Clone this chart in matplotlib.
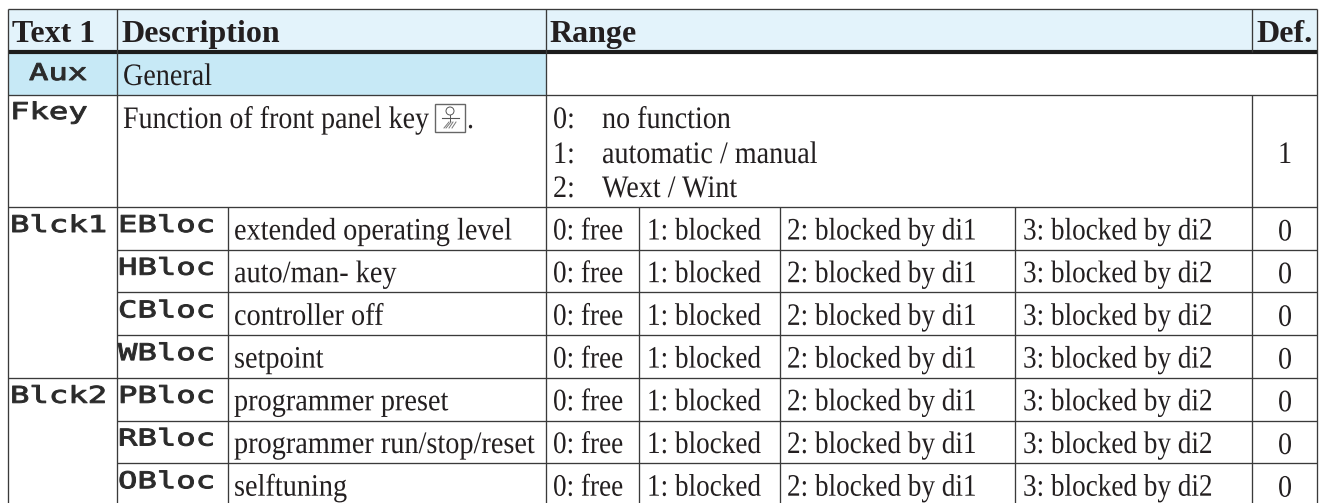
import matplotlib
matplotlib.use("Agg")
import matplotlib.pyplot as plt
from matplotlib.patches import Rectangle, Circle
from matplotlib.patheffects import AbstractPathEffect
from matplotlib.transforms import Affine2D

headers = ["Text 1", "Description", "Range", "Def."]
aux_code = "Aux"
aux_label = "General"
fkey_code = "Fkey"
fkey_label = "Function of front panel key"
fkey_nums = ["0:", "1:", "2:"]
fkey_opts = ["no function", "automatic / manual", "Wext / Wint"]
fkey_def = "1"
groups = ["Blck1", "Blck2"]
codes = ["EBloc", "HBloc", "CBloc", "WBloc", "PBloc", "RBloc", "OBloc"]
labels = ["extended operating level", "auto/man- key", "controller off", "setpoint",
          "programmer preset", "programmer run/stop/reset", "selftuning"]
choices = ["0: free", "1: blocked", "2: blocked by di1", "3: blocked by di2"]
defaults = ["0", "0", "0", "0", "0", "0", "0"]

INK = "#231f20"
LINE = "#3a3a3a"
HEAD_BG = "#e3f3fb"
AUX_BG = "#c7e9f6"

# column and row edges, in pixels
X0, X1, X2, X3, X4, X5, X6, X7, X8 = 8, 117, 228, 546, 639, 780, 1015, 1252, 1317
Y_TOP, Y_HEAD, Y_AUX, Y_FKEY = 9, 52, 95, 207
ROW_H = 42.7
Y_END = 510


class Stretch(AbstractPathEffect):
    # squeeze or widen glyphs sideways, the text stays real text
    def __init__(self, sx, lw=0.0):
        super().__init__()
        self.sx = sx
        self.lw = lw

    def draw_path(self, renderer, gc, tpath, affine, rgbFace=None):
        if self.lw:
            gc.set_linewidth(self.lw)
            gc.set_foreground(rgbFace)
        renderer.draw_path(gc, tpath, Affine2D().scale(self.sx, 1) + affine, rgbFace)


fig = plt.figure(figsize=(13.28, 5.03), dpi=100)
ax = fig.add_axes([0, 0, 1, 1])
ax.set_xlim(0, 1328)
ax.set_ylim(503, 0)
ax.axis("off")


def serif(x, y, s, sx=0.90):
    ax.text(x, y, s, family="Liberation Serif", fontsize=22.5, color=INK, va="baseline",
            ha="left", path_effects=[Stretch(sx)])


def head(x, y, s):
    ax.text(x, y, s, family="Liberation Serif", fontsize=23, color=INK, va="baseline",
            ha="left", fontweight="bold")


def lcd(x, y, s):
    ax.text(x, y, s, family="DejaVu Sans Mono", fontsize=16.6, color="#2a2a2a", va="baseline",
            ha="left", path_effects=[Stretch(1.4, lw=0.7)])


def hline(y, x0=X0, x1=X8, lw=0.95):
    ax.plot([x0, x1], [y, y], color=LINE, lw=lw, solid_capstyle="butt")


def vline(x, y0, y1, lw=0.95):
    ax.plot([x, x], [y0, y1], color=LINE, lw=lw, solid_capstyle="butt")


ax.add_patch(Rectangle((X0, Y_TOP), X8 - X0, Y_HEAD - Y_TOP, fc=HEAD_BG, ec="none"))
ax.add_patch(Rectangle((X0, Y_HEAD), X3 - X0, Y_AUX - Y_HEAD, fc=AUX_BG, ec="none"))

# header
for x, s in zip([12, 121, 549, 1256], headers):
    head(x, 42, s)

# aux and fkey rows
lcd(29, 80, aux_code)
serif(X1 + 6, 85, aux_label)
lcd(10, 119, fkey_code)
serif(X1 + 6, 128, fkey_label, sx=0.895)

# front panel key symbol
ax.add_patch(Rectangle((435, 103.5), 29.5, 28.5, fc="white", ec="#666666", lw=1.0))
ax.add_patch(Circle((450, 111), 4, fc="none", ec="#555555", lw=0.7))
ax.plot([442, 459], [117.5, 117.5], color="#555555", lw=0.8)
ax.plot([450, 450], [115, 121], color="#555555", lw=0.7)
for x_a, x_b in [(444, 449), (446, 451), (449, 453), (452, 456)]:
    ax.plot([x_a, x_b], [128, 122], color="#777777", lw=0.7)
serif(467, 128, ".")

for y, n, opt in zip([128, 163, 197], fkey_nums, fkey_opts):
    serif(X3 + 7, y, n)
    serif(X3 + 56, y, opt)
serif(1278, 163, fkey_def)

# blocked rows
lcd(10, Y_FKEY + 25, groups[0])
lcd(10, Y_FKEY + 4 * ROW_H + 25, groups[1])
choice_x = [X3 + 7, X4 + 8, X5 + 7, X6 + 8]
for i, (code, label, d) in enumerate(zip(codes, labels, defaults)):
    top = Y_FKEY + i * ROW_H
    lcd(X1 + 1, top + 25, code)
    serif(X2 + 6, top + 32.5, label, sx=0.905)
    for x, c in zip(choice_x, choices):
        serif(x, top + 32.5, c, sx=0.87)
    serif(1278, top + 33.5, d)

# grid
hline(Y_TOP)
ax.plot([X0, X8], [Y_HEAD, Y_HEAD], color="#1c1c1c", lw=3.0, solid_capstyle="butt")
hline(Y_AUX)
hline(Y_FKEY)
for i in range(1, 7):
    y = Y_FKEY + i * ROW_H
    if i == 4:
        hline(y)
    else:
        hline(y, x0=X1)
for x in [X0, X8]:
    vline(x, Y_TOP, Y_END)
vline(X1, Y_TOP, Y_END)
vline(X3, Y_TOP, Y_END)
vline(X7, Y_TOP, Y_HEAD)
vline(X7, Y_AUX, Y_END)
for x in [X2, X4, X5, X6]:
    vline(x, Y_FKEY, Y_END)

fig.savefig("out.png", dpi=100, facecolor="white")
